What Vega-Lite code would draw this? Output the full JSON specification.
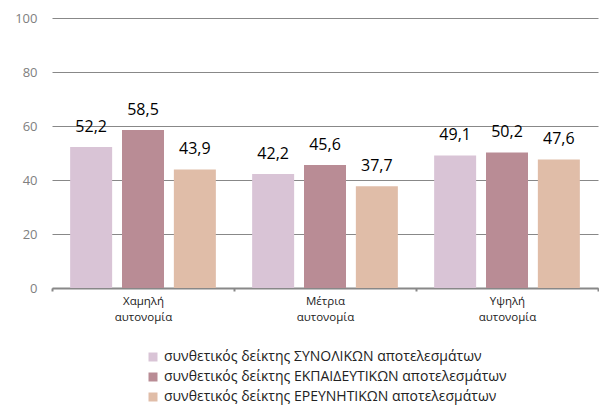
{
  "$schema": "https://vega.github.io/schema/vega-lite/v6.json",
  "width": 546,
  "height": 270,
  "autosize": "none",
  "padding": {"left": 52, "top": 18, "right": 1, "bottom": 117},
  "background": "white",
  "config": {
    "locale": {"number": {"decimal": ",", "thousands": ".", "grouping": [3], "currency": ["", " €"]}},
    "font": "Open Sans",
    "view": {"stroke": null}
  },
  "data": {
    "values": [
      {"group": "Χαμηλή αυτονομία", "series": "συνθετικός δείκτης ΣΥΝΟΛΙΚΩΝ αποτελεσμάτων", "value": 52.2},
      {"group": "Χαμηλή αυτονομία", "series": "συνθετικός δείκτης ΕΚΠΑΙΔΕΥΤΙΚΩΝ αποτελεσμάτων", "value": 58.5},
      {"group": "Χαμηλή αυτονομία", "series": "συνθετικός δείκτης ΕΡΕΥΝΗΤΙΚΩΝ αποτελεσμάτων", "value": 43.9},
      {"group": "Μέτρια αυτονομία", "series": "συνθετικός δείκτης ΣΥΝΟΛΙΚΩΝ αποτελεσμάτων", "value": 42.2},
      {"group": "Μέτρια αυτονομία", "series": "συνθετικός δείκτης ΕΚΠΑΙΔΕΥΤΙΚΩΝ αποτελεσμάτων", "value": 45.6},
      {"group": "Μέτρια αυτονομία", "series": "συνθετικός δείκτης ΕΡΕΥΝΗΤΙΚΩΝ αποτελεσμάτων", "value": 37.7},
      {"group": "Υψηλή αυτονομία", "series": "συνθετικός δείκτης ΣΥΝΟΛΙΚΩΝ αποτελεσμάτων", "value": 49.1},
      {"group": "Υψηλή αυτονομία", "series": "συνθετικός δείκτης ΕΚΠΑΙΔΕΥΤΙΚΩΝ αποτελεσμάτων", "value": 50.2},
      {"group": "Υψηλή αυτονομία", "series": "συνθετικός δείκτης ΕΡΕΥΝΗΤΙΚΩΝ αποτελεσμάτων", "value": 47.6}
    ]
  },
  "encoding": {
    "x": {
      "field": "group", "type": "nominal", "sort": null,
      "scale": {"paddingInner": 0, "paddingOuter": 0},
      "axis": {
        "title": null, "labelAngle": 0,
        "labelExpr": "split(datum.label, ' ')",
        "labelFontSize": 11.5, "labelColor": "#222222", "labelLineHeight": 16,
        "labelPadding": 4,
        "domainColor": "#888888", "domainWidth": 2,
        "tickBand": "extent", "tickColor": "#888888", "tickSize": 3, "tickWidth": 2
      }
    },
    "xOffset": {
      "field": "series", "type": "nominal", "sort": null,
      "scale": {"paddingInner": 0.19, "paddingOuter": 0.35}
    },
    "y": {
      "field": "value", "type": "quantitative",
      "scale": {"domain": [0, 100], "nice": false},
      "axis": {
        "title": null, "values": [0, 20, 40, 60, 80, 100],
        "domain": false, "ticks": false, "labelPadding": 15,
        "labelFontSize": 13, "labelColor": "#808080",
        "gridColor": "#888888", "gridWidth": 1
      }
    }
  },
  "layer": [
    {
      "mark": {"type": "bar"},
      "encoding": {
        "color": {
          "field": "series", "type": "nominal", "sort": null,
          "scale": {"range": ["#D9C4D6", "#B98C95", "#E0BDA8"]},
          "legend": {
            "title": null, "orient": "none", "legendX": 94, "legendY": 332,
            "direction": "vertical", "symbolType": "square", "symbolSize": 81,
            "symbolStrokeWidth": 0, "labelFontSize": 14, "labelColor": "#222222",
            "labelLimit": 0, "rowPadding": 6, "labelOffset": 4
          }
        }
      }
    },
    {
      "mark": {"type": "text", "baseline": "alphabetic", "dy": -15, "fontSize": 16, "color": "#000000"},
      "encoding": {
        "text": {"field": "value", "type": "quantitative", "format": ".1f"}
      }
    }
  ]
}
